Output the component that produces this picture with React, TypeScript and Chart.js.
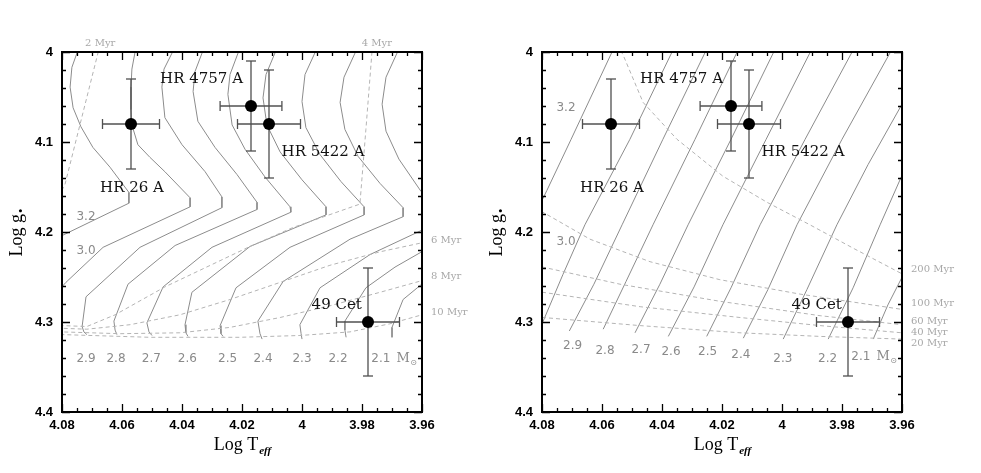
import React, { useEffect, useRef } from "react";
import { Chart, registerables } from "chart.js";

Chart.register(...registerables);

type P = [number, number]; // [log Teff, log g]

// ---------- axes ----------
const xTickValues = [4.08, 4.06, 4.04, 4.02, 4.0, 3.98, 3.96];
const xTickLabels = ["4.08", "4.06", "4.04", "4.02", "4", "3.98", "3.96"];
const yTickValues = [4.0, 4.1, 4.2, 4.3, 4.4];
const yTickLabels = ["4", "4.1", "4.2", "4.3", "4.4"];

// ---------- stars ----------
const starNames = ["HR 26 A", "HR 4757 A", "HR 5422 A", "49 Cet"];
const starLogTeff = [4.057, 4.017, 4.011, 3.978];
const starLogg = [4.08, 4.06, 4.08, 4.3];
const starTeffErr = [0.0095, 0.0103, 0.0105, 0.0105];
const starLoggErr = [0.05, 0.05, 0.06, 0.06];
const starLabelT = [4.0673, 4.0473, 4.0068, 3.9968];
const starLabelG = [4.1517, 4.0306, 4.1113, 4.281];

// ---------- left panel: PMS tracks ----------
const pms32: P[] = [[4.0737,3.986],[4.075,4.001],[4.0767,4.017],[4.0773,4.039],[4.0763,4.062],[4.0737,4.083],[4.0697,4.106],[4.064,4.128],[4.0577,4.156],[4.0577,4.168],[4.08,4.204],[4.0873,4.215]];
const pms30: P[] = [[4.0547,3.986],[4.0557,4.001],[4.0567,4.019],[4.057,4.039],[4.057,4.064],[4.0567,4.081],[4.0547,4.103],[4.0507,4.117],[4.0457,4.133],[4.0373,4.162],[4.0373,4.172],[4.0663,4.217],[4.0787,4.256],[4.0823,4.269]];
const pms29: P[] = [[4.0423,3.986],[4.0433,4.001],[4.046,4.019],[4.0467,4.039],[4.0457,4.073],[4.04,4.103],[4.0323,4.133],[4.0267,4.161],[4.0267,4.173],[4.054,4.217],[4.072,4.272],[4.0733,4.305],[4.0727,4.311],[4.0717,4.314]];
const pms28: P[] = [[4.032,3.986],[4.0333,4.001],[4.0357,4.022],[4.0363,4.044],[4.0347,4.077],[4.029,4.106],[4.0217,4.136],[4.015,4.167],[4.015,4.175],[4.0423,4.215],[4.058,4.258],[4.0627,4.299],[4.0623,4.309],[4.0617,4.314]];
const pms27: P[] = [[4.02,3.986],[4.0213,4.001],[4.024,4.025],[4.0247,4.047],[4.0233,4.081],[4.019,4.108],[4.0123,4.139],[4.004,4.172],[4.0037,4.178],[4.03,4.217],[4.0463,4.261],[4.0517,4.301],[4.051,4.311],[4.05,4.315]];
const pms26: P[] = [[4.0077,3.986],[4.009,4.001],[4.012,4.025],[4.013,4.051],[4.0117,4.081],[4.0073,4.111],[4.0,4.142],[3.992,4.172],[3.992,4.181],[4.0173,4.216],[4.0367,4.267],[4.039,4.303],[4.0387,4.312],[4.038,4.316]];
const pms25: P[] = [[3.9943,3.986],[3.9957,4.001],[3.999,4.025],[4.0,4.055],[3.9987,4.084],[3.994,4.114],[3.987,4.144],[3.9793,4.172],[3.9793,4.181],[4.004,4.217],[4.022,4.262],[4.0273,4.304],[4.027,4.313],[4.0263,4.316]];
const pms24: P[] = [[3.981,3.986],[3.9823,4.001],[3.986,4.028],[3.9873,4.056],[3.9857,4.086],[3.9813,4.116],[3.974,4.146],[3.9663,4.173],[3.9663,4.183],[3.984,4.208],[4.0063,4.255],[4.0147,4.299],[4.014,4.313],[4.0133,4.319]];
const pms23: P[] = [[3.967,3.986],[3.9683,4.001],[3.972,4.028],[3.9733,4.058],[3.972,4.088],[3.9677,4.119],[3.9603,4.155],[3.953,4.177],[3.953,4.187],[3.9773,4.225],[3.994,4.262],[4.0007,4.303],[4.0003,4.313],[4.0,4.319]];
const pms22: P[] = [[3.9473,4.199],[3.9601,4.222],[3.969,4.239],[3.9787,4.262],[3.9857,4.299],[3.9857,4.309],[3.9853,4.317]];
const pms21: P[] = [[3.9507,4.242],[3.9601,4.258],[3.9663,4.275],[3.97,4.306],[3.97,4.317]];

// ---------- left panel: isochrones ----------
const iso2Myr: P[] = [[4.0673,3.992],[4.068,4.001],[4.079,4.147],[4.0807,4.158]];
const iso4Myr: P[] = [[3.9763,3.992],[3.9767,4.001],[3.9787,4.086],[3.9807,4.169],[4.003,4.195],[4.0173,4.216],[4.0457,4.261],[4.0623,4.292],[4.0717,4.305],[4.08,4.304]];
const iso6Myr: P[] = [[3.954,4.206],[3.96,4.212],[3.974,4.222],[3.9907,4.237],[4.0073,4.256],[4.024,4.275],[4.0407,4.292],[4.0573,4.303],[4.0717,4.308],[4.08,4.307]];
const iso8Myr: P[] = [[3.954,4.251],[3.96,4.254],[3.974,4.267],[3.9907,4.282],[4.0073,4.295],[4.024,4.306],[4.0407,4.312],[4.0607,4.313],[4.08,4.311]];
const iso10Myr: P[] = [[3.954,4.29],[3.96,4.292],[3.9707,4.302],[3.984,4.311],[4.0007,4.315],[4.0207,4.317],[4.0507,4.317],[4.08,4.314]];

// ---------- right panel: post-ZAMS tracks ----------
const ms32: P[] = [[4.0555,3.992],[4.0568,4.001],[4.0703,4.097],[4.0784,4.154],[4.084,4.192]];
const ms30: P[] = [[4.0357,3.992],[4.0368,4.001],[4.0507,4.097],[4.0657,4.192],[4.073,4.247],[4.0796,4.299],[4.0823,4.317]];
const ms29: P[] = [[4.0245,3.992],[4.0257,4.001],[4.0397,4.097],[4.0533,4.192],[4.0627,4.258],[4.0709,4.31]];
const ms28: P[] = [[4.0138,3.992],[4.0151,4.001],[4.029,4.097],[4.043,4.192],[4.052,4.255],[4.0596,4.308]];
const ms27: P[] = [[4.0017,3.992],[4.0029,4.001],[4.017,4.097],[4.0313,4.192],[4.0407,4.258],[4.049,4.312]];
const ms26: P[] = [[3.9893,3.992],[3.9907,4.001],[4.0053,4.097],[4.0197,4.192],[4.0293,4.261],[4.0379,4.316]];
const ms25: P[] = [[3.9753,3.992],[3.9768,4.001],[3.9923,4.097],[4.0073,4.192],[4.017,4.262],[4.0251,4.316]];
const ms24: P[] = [[3.9625,3.992],[3.964,4.001],[3.98,4.097],[3.995,4.192],[4.0047,4.264],[4.0129,4.318]];
const ms23: P[] = [[3.9507,4.001],[3.96,4.058],[3.9713,4.125],[3.9817,4.192],[3.9917,4.264],[3.9996,4.319]];
const ms22: P[] = [[3.9507,4.069],[3.96,4.137],[3.9673,4.192],[3.9763,4.262],[3.9846,4.319]];
const ms21: P[] = [[3.9507,4.186],[3.9601,4.251],[3.9647,4.281],[3.9696,4.319]];

// ---------- right panel: isochrones ----------
const iso200Myr: P[] = [[4.055,3.992],[4.053,4.003],[4.0463,4.056],[4.035,4.097],[4.0197,4.138],[4.005,4.167],[3.9907,4.192],[3.9757,4.219],[3.9597,4.247],[3.954,4.256]];
const iso100Myr: P[] = [[4.0823,4.173],[4.0797,4.178],[4.064,4.208],[4.044,4.233],[4.0207,4.253],[3.994,4.269],[3.96,4.286],[3.954,4.288]];
const iso60Myr: P[] = [[4.0823,4.238],[4.0797,4.239],[4.054,4.258],[4.0207,4.277],[3.9873,4.293],[3.96,4.303],[3.954,4.304]];
const iso40Myr: P[] = [[4.0823,4.266],[4.0797,4.267],[4.0473,4.283],[4.014,4.295],[3.9873,4.304],[3.96,4.312],[3.954,4.313]];
const iso20Myr: P[] = [[4.0823,4.294],[4.0797,4.295],[4.0473,4.304],[4.014,4.312],[3.9873,4.316],[3.96,4.319],[3.954,4.321]];

// ---------- labels ----------
const massLabels = ["3.2", "3.0", "2.9", "2.8", "2.7", "2.6", "2.5", "2.4", "2.3", "2.2", "2.1"];
const leftMassT = [4.072, 4.072, 4.072, 4.062, 4.0502, 4.0382, 4.0248, 4.013, 4.0, 3.988, 3.9737];
const leftMassG = [4.1828, 4.2206, 4.3406, 4.3406, 4.3406, 4.3406, 4.3406, 4.3406, 4.3406, 4.3406, 4.3406];
const rightMassT = [4.072, 4.072, 4.0698, 4.059, 4.047, 4.037, 4.0248, 4.0137, 3.9997, 3.9848, 3.9737];
const rightMassG = [4.0617, 4.2106, 4.3261, 4.3317, 4.3306, 4.3328, 4.3328, 4.3361, 4.3406, 4.3406, 4.339];

const leftAgeLabels = ["2 Myr", "4 Myr", "6 Myr", "8 Myr", "10 Myr"];
const leftAgeT = [4.0723, 3.9801, 3.957, 3.957, 3.957];
const leftAgeG = [3.99, 3.99, 4.2094, 4.2494, 4.2894];
const rightAgeLabels = ["200 Myr", "100 Myr", "60 Myr", "40 Myr", "20 Myr"];
const rightAgeT = [3.957, 3.957, 3.957, 3.957, 3.957];
const rightAgeG = [4.2417, 4.2794, 4.299, 4.3113, 4.3242];

interface Panel {
  tracks: P[][];
  isochrones: P[][];
  massT: number[];
  massG: number[];
  ageLabels: string[];
  ageT: number[];
  ageG: number[];
}

const leftPanel: Panel = {
  tracks: [pms32, pms30, pms29, pms28, pms27, pms26, pms25, pms24, pms23, pms22, pms21],
  isochrones: [iso2Myr, iso4Myr, iso6Myr, iso8Myr, iso10Myr],
  massT: leftMassT,
  massG: leftMassG,
  ageLabels: leftAgeLabels,
  ageT: leftAgeT,
  ageG: leftAgeG,
};

const rightPanel: Panel = {
  tracks: [ms32, ms30, ms29, ms28, ms27, ms26, ms25, ms24, ms23, ms22, ms21],
  isochrones: [iso200Myr, iso100Myr, iso60Myr, iso40Myr, iso20Myr],
  massT: rightMassT,
  massG: rightMassG,
  ageLabels: rightAgeLabels,
  ageT: rightAgeT,
  ageG: rightAgeG,
};

const toXY = (pts: P[]) => pts.map(([x, y]) => ({ x, y }));

const TRACK = "#8c8c8c";
const ISO = "#b4b4b4";
const ERR = "#505050";

function decorPlugin(panel: Panel) {
  return {
    id: "decor",
    afterDraw(chart: any) {
      const ctx: CanvasRenderingContext2D = chart.ctx;
      const a = chart.chartArea;
      const xs = chart.scales.x;
      const ys = chart.scales.y;
      const X = (v: number) => xs.getPixelForValue(v);
      const Y = (v: number) => ys.getPixelForValue(v);
      ctx.save();

      // inward ticks on all four sides
      ctx.strokeStyle = "#000";
      ctx.lineWidth = 1.3;
      ctx.beginPath();
      for (let k = 0; k <= 24; k++) {
        const px = Math.round(X(3.96 + k * 0.005)) + 0.5;
        const len = k % 4 === 0 ? 8 : 4;
        ctx.moveTo(px, a.bottom);
        ctx.lineTo(px, a.bottom - len);
        ctx.moveTo(px, a.top);
        ctx.lineTo(px, a.top + len);
      }
      for (let k = 0; k <= 20; k++) {
        const py = Math.round(Y(4 + k * 0.02)) + 0.5;
        const len = k % 5 === 0 ? 8 : 4;
        ctx.moveTo(a.left, py);
        ctx.lineTo(a.left + len, py);
        ctx.moveTo(a.right, py);
        ctx.lineTo(a.right - len, py);
      }
      ctx.stroke();

      // frame
      ctx.lineWidth = 2;
      ctx.strokeRect(a.left, a.top, a.right - a.left, a.bottom - a.top);

      // star labels
      ctx.fillStyle = "#111";
      ctx.font = '15px "DejaVu Serif"';
      ctx.textAlign = "left";
      ctx.textBaseline = "middle";
      starNames.forEach((s, i) => ctx.fillText(s, X(starLabelT[i]), Y(starLabelG[i])));

      // mass labels
      ctx.fillStyle = "#8a8a8a";
      ctx.font = '12px "DejaVu Sans"';
      ctx.textAlign = "center";
      massLabels.forEach((s, i) => {
        const px = X(panel.massT[i]);
        const py = Y(panel.massG[i]);
        ctx.textAlign = "center";
        ctx.fillText(s, px, py);
        if (i === massLabels.length - 1) {
          const w = ctx.measureText(s).width;
          ctx.textAlign = "left";
          ctx.font = '13px "DejaVu Serif"';
          const mx = px + w / 2 + 6;
          ctx.fillText("M", mx, py);
          const mw = ctx.measureText("M").width;
          ctx.font = '8px "DejaVu Sans"';
          ctx.fillText("\u2299", mx + mw + 0.5, py + 4);
          ctx.font = '12px "DejaVu Sans"';
        }
      });

      // age labels
      ctx.fillStyle = "#a8a8a8";
      ctx.font = '10px "DejaVu Serif"';
      ctx.textAlign = "left";
      panel.ageLabels.forEach((s, i) => ctx.fillText(s, X(panel.ageT[i]), Y(panel.ageG[i])));

      // x axis title: Log T_eff
      ctx.fillStyle = "#000";
      ctx.textBaseline = "alphabetic";
      const cx = (a.left + a.right) / 2;
      ctx.font = '18px "Liberation Serif"';
      const t1 = "Log T";
      const w1 = ctx.measureText(t1).width;
      ctx.font = 'italic bold 11px "Liberation Serif"';
      const w2 = ctx.measureText("eff").width;
      const sx = cx - (w1 + w2) / 2;
      ctx.font = '18px "Liberation Serif"';
      ctx.fillText(t1, sx, 450);
      ctx.font = 'italic bold 11px "Liberation Serif"';
      ctx.fillText("eff", sx + w1 + 1, 454);

      // y axis title: Log g*
      ctx.save();
      ctx.translate(22, (a.top + a.bottom) / 2);
      ctx.rotate(-Math.PI / 2);
      ctx.font = '18px "Liberation Serif"';
      const y1 = "Log g";
      const yw1 = ctx.measureText(y1).width;
      ctx.font = '11px "DejaVu Sans"';
      const yw2 = ctx.measureText("\u2022").width;
      const sy = -(yw1 + yw2) / 2;
      ctx.font = '18px "Liberation Serif"';
      ctx.fillText(y1, sy, 0);
      ctx.font = '11px "DejaVu Sans"';
      ctx.fillText("\u2022", sy + yw1, 2);
      ctx.restore();

      ctx.restore();
    },
  };
}

function buildConfig(panel: Panel): any {
  const datasets: any[] = [];
  // markers (top-most)
  datasets.push({
    data: starLogTeff.map((x, i) => ({ x, y: starLogg[i] })),
    showLine: false,
    pointRadius: 6,
    pointBackgroundColor: "#000",
    pointBorderColor: "#000",
    pointBorderWidth: 0,
  });
  // error bars
  starLogTeff.forEach((t, i) => {
    const g = starLogg[i];
    const et = starTeffErr[i];
    const eg = starLoggErr[i];
    datasets.push({
      data: [{ x: t - et, y: g }, { x: t + et, y: g }],
      showLine: true,
      borderColor: ERR,
      borderWidth: 1.3,
      pointStyle: "line",
      pointRotation: 90,
      pointRadius: 5,
      pointBorderWidth: 1.3,
      pointBorderColor: ERR,
    });
    datasets.push({
      data: [{ x: t, y: g - eg }, { x: t, y: g + eg }],
      showLine: true,
      borderColor: ERR,
      borderWidth: 1.3,
      pointStyle: "line",
      pointRotation: 0,
      pointRadius: 5,
      pointBorderWidth: 1.3,
      pointBorderColor: ERR,
    });
  });
  // isochrones
  panel.isochrones.forEach((iso) =>
    datasets.push({
      data: toXY(iso),
      showLine: true,
      borderColor: ISO,
      borderWidth: 1,
      borderDash: [4, 3],
      pointRadius: 0,
    })
  );
  // tracks
  panel.tracks.forEach((tr) =>
    datasets.push({
      data: toXY(tr),
      showLine: true,
      borderColor: TRACK,
      borderWidth: 1,
      pointRadius: 0,
    })
  );

  return {
    type: "scatter",
    data: { datasets },
    options: {
      animation: false,
      responsive: false,
      devicePixelRatio: 1,
      events: [],
      layout: { padding: { top: 52, right: 68, left: 0, bottom: 0 } },
      plugins: { legend: { display: false }, tooltip: { enabled: false } },
      scales: {
        x: {
          type: "linear",
          position: "bottom",
          min: 3.96,
          max: 4.08,
          reverse: true,
          grid: { display: false, drawTicks: false },
          border: { display: false },
          ticks: {
            color: "#000",
            font: { family: '"Liberation Sans"', size: 13, weight: "bold" },
            padding: 6,
            autoSkip: false,
            maxRotation: 0,
            callback: (_v: any, i: number) => xTickLabels[i],
          },
          afterBuildTicks: (s: any) => {
            s.ticks = xTickValues.map((value) => ({ value }));
          },
          afterFit: (s: any) => {
            s.height = 61;
          },
        },
        y: {
          type: "linear",
          position: "left",
          min: 4.0,
          max: 4.4,
          reverse: true,
          grid: { display: false, drawTicks: false },
          border: { display: false },
          ticks: {
            color: "#000",
            font: { family: '"Liberation Sans"', size: 13, weight: "bold" },
            padding: 9,
            autoSkip: false,
            callback: (_v: any, i: number) => yTickLabels[i],
          },
          afterBuildTicks: (s: any) => {
            s.ticks = yTickValues.map((value) => ({ value }));
          },
          afterFit: (s: any) => {
            s.width = 62;
          },
        },
      },
    },
    plugins: [decorPlugin(panel)],
  };
}

function PanelChart({ panel, left }: { panel: Panel; left: number }) {
  const ref = useRef<HTMLCanvasElement>(null);
  useEffect(() => {
    const chart = new Chart(ref.current as HTMLCanvasElement, buildConfig(panel));
    return () => chart.destroy();
  }, [panel]);
  return (
    <canvas
      ref={ref}
      width={490}
      height={473}
      style={{ position: "absolute", left, top: 0, width: 490, height: 473 }}
    />
  );
}

export default function App() {
  return (
    <div style={{ position: "absolute", left: 0, top: 0, width: 981, height: 473, background: "#fff", overflow: "hidden" }}>
      <PanelChart panel={leftPanel} left={0} />
      <PanelChart panel={rightPanel} left={480} />
    </div>
  );
}
